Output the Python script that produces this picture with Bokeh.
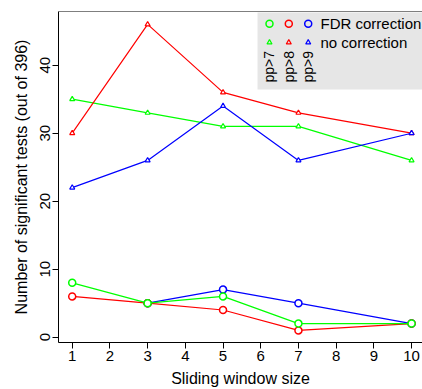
import math
from bokeh.plotting import figure
from bokeh.models import Range1d, FixedTicker, BoxAnnotation, Span
from bokeh.embed import file_html
from bokeh.resources import INLINE
from bokeh.core.properties import value

nan = float("nan")

# ---- data ----
window_size = [1, 3, 5, 7, 10]
fdr_pp7 = [8, 5, 6, 2, 2]
fdr_pp8 = [6, 5, 4, 1, 2]
fdr_pp9 = [nan, 5, 7, 5, 2]
raw_pp7 = [35, 33, 31, 31, 26]
raw_pp8 = [30, 46, 36, 33, 30]
raw_pp9 = [22, 26, 34, 26, 30]
x_ticks = [1, 2, 3, 4, 5, 6, 7, 8, 9, 10]
y_ticks = [0, 10, 20, 30, 40]
series_labels = ["pp>7", "pp>8", "pp>9"]
legend_rows = ["FDR correction", "no correction"]

GREEN, RED, BLUE = "#00ff00", "#ff0000", "#0000ff"
colors = [GREEN, RED, BLUE]
FONT = "Liberation Sans"

p = figure(width=422, height=389, output_backend="svg", toolbar_location=None,
           x_range=Range1d(0.636, 10.29), y_range=Range1d(-0.78, 47.9),
           min_border_left=58, min_border_right=0, min_border_top=11, min_border_bottom=47)
p.outline_line_color = None
p.xgrid.visible = False
p.ygrid.visible = False
p.background_fill_color = "white"

for ax in (p.xaxis[0], p.yaxis[0]):
    ax.axis_line_color = "black"
    ax.axis_line_width = 1
    ax.major_tick_line_color = "black"
    ax.major_tick_out = 6
    ax.major_tick_in = 0
    ax.minor_tick_line_color = None
    ax.major_label_text_font = FONT
    ax.major_label_text_font_size = "15px"
    ax.major_label_text_color = "black"
    ax.axis_label_text_font = FONT
    ax.axis_label_text_font_size = "16px"
    ax.axis_label_text_font_style = "normal"
    ax.axis_label_text_color = "black"
    ax.major_label_standoff = 2
    ax.axis_label_standoff = 3

p.yaxis.axis_label_standoff = 8
p.xaxis.axis_label_standoff = 6
p.xaxis.ticker = FixedTicker(ticks=x_ticks)
p.yaxis.ticker = FixedTicker(ticks=y_ticks)
p.yaxis.major_label_orientation = "vertical"
p.xaxis.axis_label = "Sliding window size"
p.yaxis.axis_label = "Number of significant tests (out of 396)"

# top border of the box
p.add_layout(Span(location=47.9, dimension="width", line_color="black", line_width=1))

# legend background
p.add_layout(BoxAnnotation(left=5.914, bottom=36.43, top=47.75, fill_color="#e6e6e6",
                           fill_alpha=1, line_color=None, level="underlay"))

# no-correction series (triangles)
for ys, c in [(raw_pp7, GREEN), (raw_pp8, RED), (raw_pp9, BLUE)]:
    p.line(window_size, ys, line_color=c, line_width=1.2)
    p.scatter(window_size, ys, marker="triangle", size=5, fill_color="white",
              line_color=c, line_width=1.2)

# FDR series (circles)
for ys, c in [(fdr_pp9, BLUE), (fdr_pp8, RED), (fdr_pp7, GREEN)]:
    p.line(window_size, ys, line_color=c, line_width=1.2)
    p.scatter(window_size, ys, marker="circle", size=7, fill_color="white",
              line_color=c, line_width=1.5)

# custom legend
leg_x = [6.232, 6.744, 7.259]
p.scatter(leg_x, [46.09] * 3, marker="circle", size=7, fill_color=None,
          line_color=colors, line_width=1.5)
p.scatter(leg_x, [43.34] * 3, marker="triangle", size=5, fill_color=None,
          line_color=colors, line_width=1.2)
p.text([7.585, 7.585], [46.09, 43.34], text=legend_rows, text_font=value(FONT),
       text_font_size="15px", text_color="black", text_align="left", text_baseline="middle")
p.text(leg_x, [37.46] * 3, text=series_labels, angle=math.pi / 2, text_font=value(FONT),
       text_font_size="14px", text_color="black", text_align="left", text_baseline="middle")

open("out.html", "w").write(file_html(p, INLINE))
